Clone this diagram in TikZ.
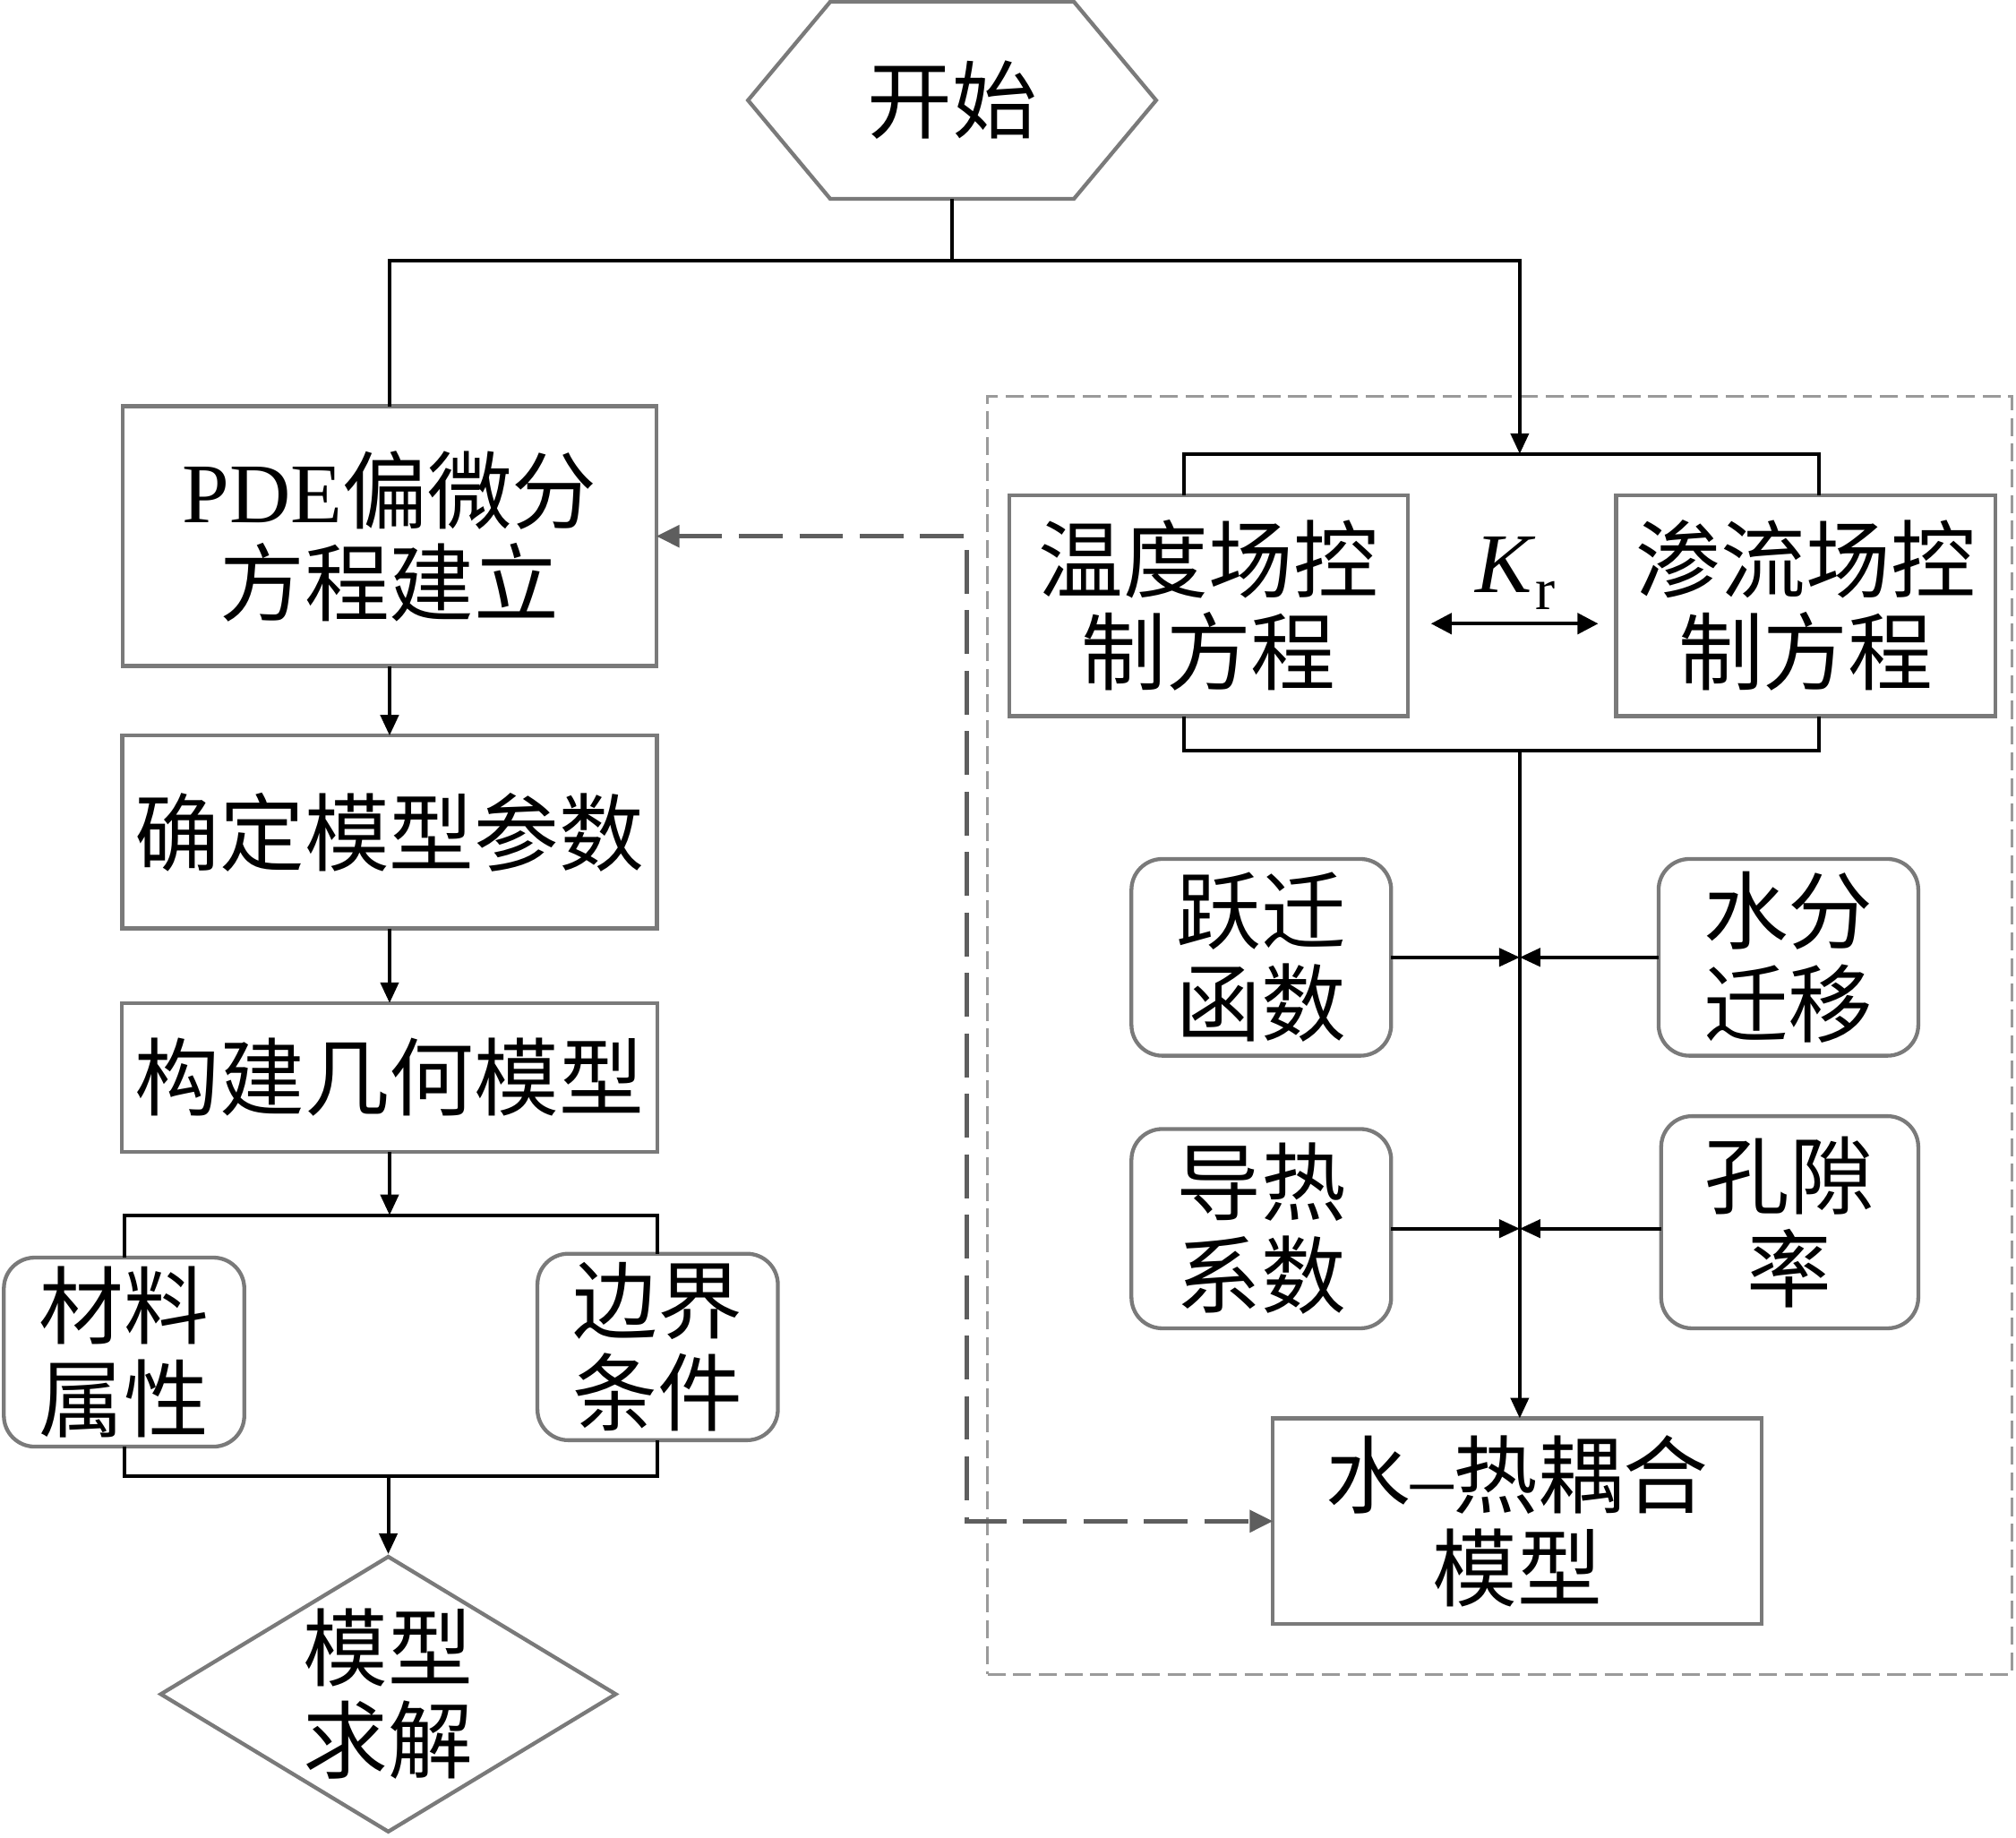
\documentclass[tikz,border=0pt]{standalone}
\usepackage{fontspec}
\setmainfont{Liberation Serif}
\newfontfamily\cjk{Noto Sans CJK SC}
\usetikzlibrary{arrows.meta,shapes.geometric,calc}
\definecolor{boxgray}{HTML}{7A7A7A}
\definecolor{framegray}{HTML}{9A9A9A}
\definecolor{dashgray}{HTML}{5E5E5E}
\begin{document}
\begin{tikzpicture}[x=1pt,y=-1pt,
  txt/.style={font=\fontsize{66}{72}\selectfont\cjk, align=center, text=black},
  box/.style={txt, draw=boxgray, line width=3pt, rectangle, inner sep=0pt, outer sep=0pt},
  rbox/.style={box, rounded corners=24pt},
  conn/.style={line width=2.8pt, black},
  arr/.style={conn, -{Triangle[length=16pt,width=14pt]}},
  dconn/.style={line width=3.2pt, dashgray, dash pattern=on 34pt off 13pt,
    {Triangle[length=18pt,width=17pt]}-{Triangle[length=18pt,width=17pt]}},
  frame/.style={draw=framegray, line width=2.2pt, dash pattern=on 14pt off 6pt, inner sep=0pt, outer sep=0pt}
]
\useasboundingbox (0,0) rectangle (1568,1429);

% dashed frame
\node[frame, minimum width=797pt, minimum height=994pt] (frame) at (1166.5,805) {};

% start hexagon
\node[txt, minimum width=317pt, minimum height=153pt, inner sep=0pt] (start) at (740.5,78) {开始};
\draw[draw=boxgray, line width=3pt] (start.west) -- ($(start.north west)+(64,0)$) -- ($(start.north east)+(-64,0)$)
  -- (start.east) -- ($(start.south east)+(-64,0)$) -- ($(start.south west)+(64,0)$) -- cycle;

% left column
\node[box, minimum width=415pt, minimum height=202pt] (pde) at (303,417) {{\rmfamily PDE}偏微分\\方程建立};
\node[box, minimum width=416pt, minimum height=150pt] (param) at (303,647) {确定模型参数};
\node[box, minimum width=417pt, minimum height=116pt] (geom) at (303,838) {构建几何模型};
\node[rbox, minimum width=187pt, minimum height=147pt] (mat) at (96.5,1051.5) {材料\\属性};
\node[rbox, minimum width=187pt, minimum height=145pt] (bound) at (511.5,1047.5) {边界\\条件};
\node[txt, draw=boxgray, line width=3pt, diamond, aspect=1.65, inner sep=0pt,
      minimum width=355pt, minimum height=215pt] (solve) at (302,1317.5) {模型\\求解};

% right column
\node[box, minimum width=310pt, minimum height=172pt] (temp) at (940,471) {温度场控\\制方程};
\node[box, minimum width=295pt, minimum height=172pt] (seep) at (1404.5,471) {渗流场控\\制方程};
\node[font=\fontsize{66}{72}\selectfont\rmfamily, inner sep=0pt] (kr) at (1179,446) {\textit{K}\textsubscript{r}};
\node[rbox, minimum width=202pt, minimum height=153pt] (jump) at (981,744.5) {跃迁\\函数};
\node[rbox, minimum width=202pt, minimum height=153pt] (water) at (1391,744.5) {水分\\迁移};
\node[rbox, minimum width=202pt, minimum height=155pt] (cond) at (981,955.5) {导热\\系数};
\node[rbox, minimum width=200pt, minimum height=165pt] (pore) at (1392,950.5) {孔隙\\率};
\node[box, minimum width=380pt, minimum height=160pt] (couple) at (1180,1183) {水{\rmfamily –}热耦合\\模型};

% coordinates
\coordinate (split) at (740.5,203);
\coordinate (rtop) at (1182,353);
\coordinate (rtl) at (921,353);
\coordinate (rtr) at (1415,353);
\coordinate (rbot) at (1182,584);
\coordinate (rbl) at (921,584);
\coordinate (rbr) at (1415,584);
\coordinate (ltop) at (303,945);
\coordinate (lbot) at (302,1148);
\coordinate (kl) at (1113,485);
\coordinate (kri) at (1243,485);
\coordinate (dx) at (752,0);

% top connectors
\draw[conn] (start.south) -- (split);
\draw[conn] (split) -| (pde.north);
\draw[arr] (split) -| (rtop);

% left flow
\draw[arr] (pde.south) -- (param.north);
\draw[arr] (param.south) -- (geom.north);
\draw[arr] (geom.south) -- (ltop);
\draw[conn] (mat.north) |- (ltop) -| (bound.north);
\draw[conn] (mat.south) |- (lbot) -| (bound.south);
\draw[arr] (lbot) -- (solve.north);

% right flow
\draw[conn] (rtl |- temp.north) -- (rtl) -- (rtr) -- (rtr |- seep.north);
\draw[conn] (rbl |- temp.south) -- (rbl) -- (rbr) -- (rbr |- seep.south);
\draw[conn, {Triangle[length=16pt,width=16pt]}-{Triangle[length=16pt,width=16pt]}] (kl) -- (kri);
\draw[arr] (rbot) -- (rbot |- couple.north);
\draw[arr] (jump.east) -- (jump.east -| rbot);
\draw[arr] (water.west) -- (water.west -| rbot);
\draw[arr] (cond.east) -- (cond.east -| rbot);
\draw[arr] (pore.west |- cond.east) -- (cond.east -| rbot);

% dashed feedback connector
\draw[dconn] (pde.east) -- (pde.east -| dx) -- (couple.west -| dx) -- (couple.west);
\end{tikzpicture}
\end{document}
